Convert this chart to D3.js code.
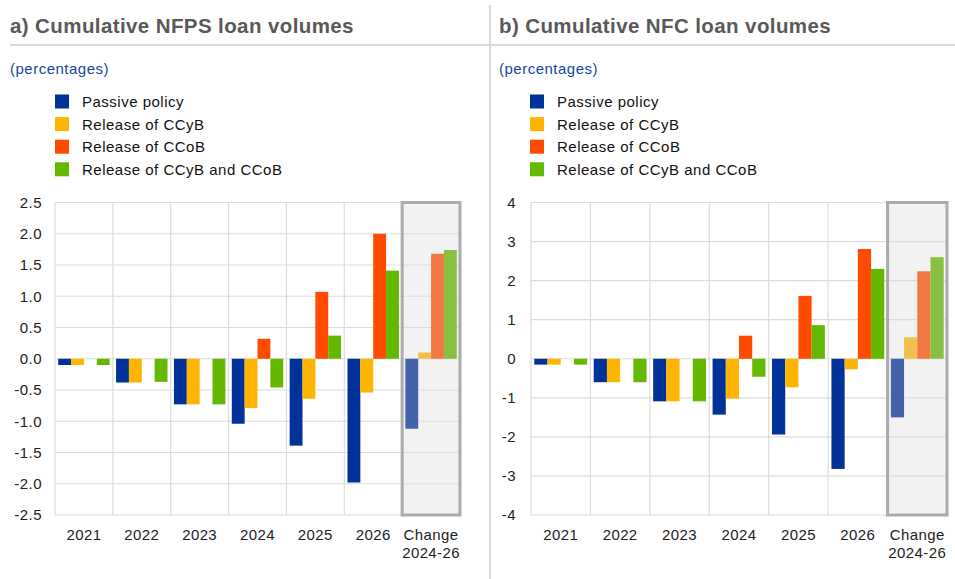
<!DOCTYPE html>
<html>
<head>
<meta charset="utf-8">
<script src="https://cdn.jsdelivr.net/npm/d3@7"></script>
<style>
  html, body { margin: 0; padding: 0; background: #fff; }
  svg { display: block; font-family: Arial, "Liberation Sans", sans-serif; }
</style>
</head>
<body>
<svg id="chart" width="955" height="579"></svg>
<script>
// Categories and series
const categories = ["2021", "2022", "2023", "2024", "2025", "2026", "Change\n2024-26"];
const seriesNames = ["Passive policy", "Release of CCyB", "Release of CCoB", "Release of CCyB and CCoB"];

// Panel a) NFPS loan volumes, percentages
const nfpsPassive = [-0.10, -0.38, -0.73, -1.04, -1.39, -1.98, -1.12];
const nfpsCCyB    = [-0.10, -0.38, -0.73, -0.79, -0.64, -0.54, 0.10];
const nfpsCCoB    = [0.00, 0.00, 0.00, 0.32, 1.07, 2.00, 1.68];
const nfpsBoth    = [-0.10, -0.37, -0.73, -0.46, 0.37, 1.41, 1.74];
const nfpsTicks   = [2.5, 2.0, 1.5, 1.0, 0.5, 0.0, -0.5, -1.0, -1.5, -2.0, -2.5];

// Panel b) NFC loan volumes, percentages
const nfcPassive = [-0.15, -0.60, -1.09, -1.43, -1.94, -2.82, -1.50];
const nfcCCyB    = [-0.15, -0.60, -1.09, -1.02, -0.73, -0.27, 0.55];
const nfcCCoB    = [0.00, 0.00, 0.00, 0.59, 1.61, 2.81, 2.24];
const nfcBoth    = [-0.15, -0.60, -1.09, -0.46, 0.86, 2.30, 2.60];
const nfcTicks   = [4, 3, 2, 1, 0, -1, -2, -3, -4];

const colors      = ["#003299", "#FFB400", "#FF4B00", "#65B800"];
const colorsLight = ["#4263AB", "#F2C04A", "#F27843", "#88C040"];

const svg = d3.select("#chart");

// Frame: title rule and panel divider
svg.append("line").attr("x1", 10).attr("x2", 955).attr("y1", 45).attr("y2", 45)
  .attr("stroke", "#d9d9d9").attr("stroke-width", 2);
svg.append("line").attr("x1", 490).attr("x2", 490).attr("y1", 5).attr("y2", 579)
  .attr("stroke", "#d9d9d9").attr("stroke-width", 2);

// Plain hyphen for negatives
const hyphen = f => d => f(d).replace("\u2212", "-");

function drawPanel(opt) {
  const g = svg.append("g");

  g.append("text").attr("x", opt.titleX).attr("y", 33)
    .attr("font-size", 20.5).attr("font-weight", "bold").attr("fill", "#595959")
    .attr("letter-spacing", 0.4)
    .text(opt.title);
  g.append("text").attr("x", opt.titleX).attr("y", 74)
    .attr("font-size", 15).attr("fill", "#17479E").attr("letter-spacing", 0.5)
    .text("(percentages)");

  // Legend
  const lg = g.append("g");
  seriesNames.forEach((name, i) => {
    const yc = 101.5 + i * 22.6;
    lg.append("rect").attr("x", opt.legendX).attr("y", yc - 7)
      .attr("width", 14).attr("height", 14).attr("fill", colors[i]);
    lg.append("text").attr("x", opt.legendX + 27).attr("y", yc + 5.5)
      .attr("font-size", 15).attr("letter-spacing", 0.5).attr("fill", "#111").text(name);
  });

  const series = [opt.passive, opt.ccyb, opt.ccob, opt.both];
  const x = d3.scaleBand().domain(categories).range([opt.x0, opt.x1]).padding(0);
  const xs = d3.scaleBand().domain(d3.range(4)).range([0, x.bandwidth()])
    .paddingInner(0).paddingOuter(0.25);
  const y = d3.scaleLinear().domain([opt.ticks[opt.ticks.length - 1], opt.ticks[0]])
    .range([515, 202.5]);

  // Highlight box background for the change column
  const lastCat = categories[categories.length - 1];
  g.append("rect").attr("x", x(lastCat)).attr("y", y.range()[1])
    .attr("width", x.bandwidth()).attr("height", y.range()[0] - y.range()[1])
    .attr("fill", "#f2f2f2");

  // Horizontal gridlines
  g.append("g").selectAll("line").data(opt.ticks).join("line")
    .attr("x1", opt.x0).attr("x2", opt.x1)
    .attr("y1", d => y(d)).attr("y2", d => y(d))
    .attr("stroke", "#dcdcdc").attr("stroke-width", 1.2);
  // Vertical gridlines at category boundaries
  const bounds = categories.map(c => x(c)).concat([opt.x1]);
  g.append("g").selectAll("line").data(bounds).join("line")
    .attr("x1", d => d).attr("x2", d => d)
    .attr("y1", y.range()[1]).attr("y2", y.range()[0])
    .attr("stroke", "#dcdcdc").attr("stroke-width", 1.2);

  // Bars
  series.forEach((vals, si) => {
    g.append("g").selectAll("rect").data(vals).join("rect")
      .attr("x", (d, i) => x(categories[i]) + xs(si))
      .attr("width", xs.bandwidth())
      .attr("y", d => y(Math.max(0, d)))
      .attr("height", d => Math.abs(y(d) - y(0)))
      .attr("fill", (d, i) => i === categories.length - 1 ? colorsLight[si] : colors[si]);
  });

  // Border of the change column
  g.append("rect").attr("x", x(lastCat)).attr("y", y.range()[1])
    .attr("width", x.bandwidth()).attr("height", y.range()[0] - y.range()[1])
    .attr("fill", "none").attr("stroke", "#ababab").attr("stroke-width", 3);

  // Y axis labels
  const yAxis = d3.axisLeft(y).tickValues(opt.ticks).tickSize(0).tickPadding(0)
    .tickFormat(hyphen(opt.fmt));
  const ya = g.append("g").attr("transform", `translate(${opt.yLabelX},0)`).call(yAxis);
  ya.select(".domain").remove();
  ya.selectAll("text").attr("font-size", 15).attr("fill", "#222")
    .attr("letter-spacing", 0.5)
    .attr("font-family", "Arial, 'Liberation Sans', sans-serif");

  // X axis labels (multi-line)
  const xa = g.append("g");
  categories.forEach(c => {
    const lines = c.split("\n");
    const t = xa.append("text").attr("text-anchor", "middle")
      .attr("font-size", 15).attr("letter-spacing", 0.4).attr("fill", "#222");
    lines.forEach((ln, li) => {
      t.append("tspan").attr("x", x(c) + x.bandwidth() / 2)
        .attr("y", 540 + li * 17.5).text(ln);
    });
  });
}

drawPanel({
  title: "a) Cumulative NFPS loan volumes", titleX: 10, legendX: 55,
  x0: 55, x1: 460, yLabelX: 42,
  passive: nfpsPassive, ccyb: nfpsCCyB, ccob: nfpsCCoB, both: nfpsBoth,
  ticks: nfpsTicks, fmt: d3.format(".1f")
});
drawPanel({
  title: "b) Cumulative NFC loan volumes", titleX: 499, legendX: 530,
  x0: 531, x1: 947, yLabelX: 516,
  passive: nfcPassive, ccyb: nfcCCyB, ccob: nfcCCoB, both: nfcBoth,
  ticks: nfcTicks, fmt: d3.format("d")
});
</script>
</body>
</html>
